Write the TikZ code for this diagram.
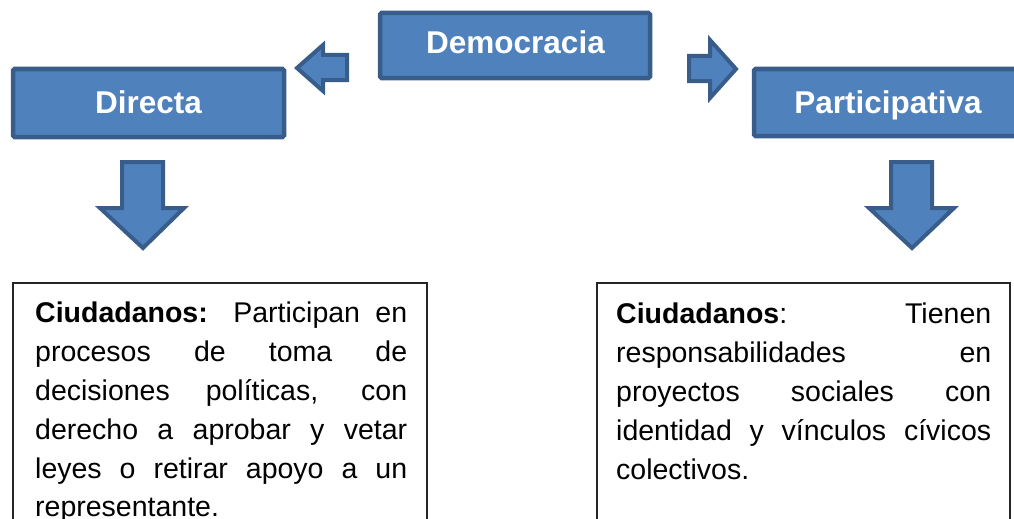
\documentclass[tikz,border=0pt]{standalone}
\usepackage{fontspec}
\setmainfont{Liberation Sans}
\definecolor{boxfill}{HTML}{4F81BD}
\definecolor{boxline}{HTML}{385D8A}
\newcommand{\bodysetup}{\fontsize{28.5}{38.8}\selectfont\tolerance=10000\relax\hyphenpenalty=10000\relax}
\begin{document}
\begin{tikzpicture}[x=1pt,y=-1pt,
  hdrbox/.style={fill=boxfill,draw=boxline,line width=4.5pt,rounded corners=1.5pt},
  blockarrow/.style={fill=boxfill,draw=boxline,line width=4pt,line join=miter},
  hdrtext/.style={text=white,font=\fontsize{31.5}{36}\selectfont\bfseries,inner sep=0pt,anchor=base},
  frame/.style={draw=black!85,line width=1.1pt},
  bodytext/.style={inner sep=0pt,anchor=north west,align=justify,font=\bodysetup}
]
\useasboundingbox (0,0) rectangle (1014,519);
\clip (0,0) rectangle (1014,519);
% header boxes
\draw[hdrbox] (380,13) rectangle (650,78);
\draw[hdrbox] (13,69) rectangle (284,137);
\draw[hdrbox] (754,69) rectangle (1022,136);
\node[hdrtext] (dem) at (515.5,53) {Democracia};
\node[hdrtext] (dir) at (148.5,113) {Directa};
\node[hdrtext] (par) at (888,113) {Participativa};
% block arrows
\draw[blockarrow] (297,68) -- (323,45) -- (323,55) -- (347,55) -- (347,80) -- (323,80) -- (323,91) -- cycle;
\draw[blockarrow] (736,69) -- (710,40) -- (710,56) -- (689,56) -- (689,81) -- (710,81) -- (710,98) -- cycle;
\draw[blockarrow] (143,248) -- (100,208) -- (122,208) -- (122,162) -- (163,162) -- (163,208) -- (184,208) -- cycle;
\draw[blockarrow] (912,248) -- (869,208) -- (891,208) -- (891,162) -- (932,162) -- (932,208) -- (954,208) -- cycle;
% text frames
\draw[frame] (13,283) rectangle (427,560);
\draw[frame] (597,283) rectangle (1010,560);
\node[bodytext,text width=372pt] (lt) at (35,302) {\textbf{Ciudadanos:} Participan en\linebreak procesos de toma de\linebreak decisiones políticas, con\linebreak derecho a aprobar y vetar\linebreak leyes o retirar apoyo a un\linebreak representante.};
\node[bodytext,text width=375pt] (rt) at (616,303) {\textbf{Ciudadanos}: Tienen\linebreak responsabilidades en\linebreak proyectos sociales con\linebreak identidad y vínculos cívicos\linebreak colectivos.};
\end{tikzpicture}
\end{document}
